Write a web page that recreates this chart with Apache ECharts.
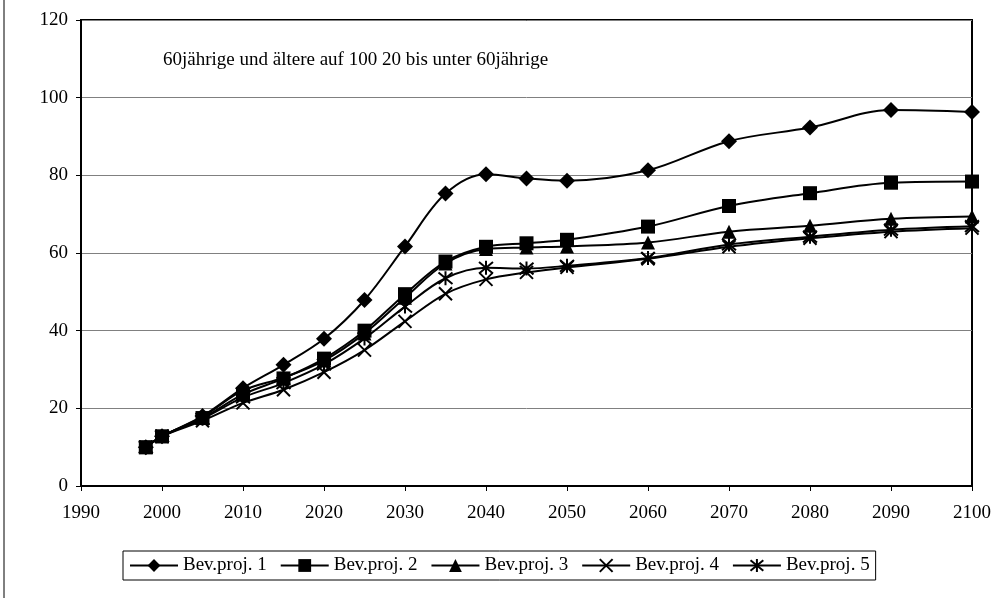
<!DOCTYPE html>
<html>
<head>
<meta charset="utf-8">
<script src="https://cdn.jsdelivr.net/npm/echarts@6/dist/echarts.min.js"></script>
<style>
  html, body { margin: 0; padding: 0; background: #fff; }
  #main { width: 994px; height: 598px; }
</style>
</head>
<body>
<div id="main"></div>
<script>
// Jahre (x-Werte)
const years = [1998, 2000, 2005, 2010, 2015, 2020, 2025, 2030, 2035, 2040, 2045, 2050, 2060, 2070, 2080, 2090, 2100];

// Werte der fünf Bevölkerungsprojektionen
const proj1 = [10, 12.8, 18.0, 25.2, 31.2, 37.9, 47.9, 61.7, 75.3, 80.3, 79.2, 78.6, 81.3, 88.8, 92.3, 96.8, 96.3];
const proj2 = [10, 12.8, 17.5, 23.6, 27.7, 32.8, 40.0, 49.4, 57.8, 61.6, 62.5, 63.4, 66.8, 72.1, 75.4, 78.1, 78.4];
const proj3 = [10, 12.8, 17.8, 24.6, 27.9, 32.3, 39.3, 48.5, 57.3, 61.0, 61.4, 61.7, 62.7, 65.5, 67.0, 68.8, 69.4];
const proj4 = [10, 12.8, 16.8, 21.4, 24.8, 29.3, 35.0, 42.4, 49.5, 53.2, 55.0, 56.3, 58.5, 61.6, 63.8, 65.5, 66.4];
const proj5 = [10, 12.8, 17.3, 22.8, 26.5, 31.3, 38.0, 46.2, 53.5, 56.2, 56.0, 56.7, 58.7, 62.2, 64.2, 66.0, 66.9];

const seriesNames = ['Bev.proj. 1', 'Bev.proj. 2', 'Bev.proj. 3', 'Bev.proj. 4', 'Bev.proj. 5'];
const annotation = '60jährige und ältere auf 100 20 bis unter 60jährige';

const chart = echarts.init(document.getElementById('main'));

const font = 'Liberation Serif, Times New Roman, serif';
const toPairs = vals => years.map((y, i) => [y, vals[i]]);

// Symbole: Raute, Quadrat, Dreieck, X, Stern
const symbols = [
  { symbol: 'diamond', size: 16 },
  { symbol: 'rect', size: 14 },
  { symbol: 'triangle', size: 14 },
  { symbol: 'path://M0,0 L10,10 M10,0 L0,10', size: 13 },
  { symbol: 'path://M0,0 L10,10 M10,0 L0,10 M5,-1 L5,11', size: 14 }
];

const allVals = [proj1, proj2, proj3, proj4, proj5];

const series = allVals.map((vals, i) => ({
  name: seriesNames[i],
  type: 'line',
  smooth: 0.35,
  data: toPairs(vals),
  symbol: symbols[i].symbol,
  symbolSize: symbols[i].size,
  showAllSymbol: true,
  lineStyle: { color: '#000', width: 2 },
  itemStyle: { color: '#000', borderColor: '#000', borderWidth: i >= 3 ? 2 : 0 },
  emphasis: { disabled: true }
}));

const option = {
  animation: false,
  backgroundColor: '#fff',
  textStyle: { fontFamily: font, color: '#000' },
  grid: {
    left: 81, right: 22, top: 20, bottom: 112,
    show: true, borderColor: '#000', borderWidth: 2
  },
  xAxis: {
    type: 'value',
    min: 1990, max: 2100, interval: 10,
    axisLine: { lineStyle: { color: '#000', width: 2 } },
    axisTick: { show: true, length: 5, lineStyle: { color: '#000' } },
    splitLine: { show: false },
    axisLabel: {
      fontFamily: font, fontSize: 19, color: '#000', margin: 18,
      formatter: v => String(v)
    }
  },
  yAxis: {
    type: 'value',
    min: 0, max: 120, interval: 20,
    axisLine: { show: true, lineStyle: { color: '#000', width: 2 } },
    axisTick: { show: true, length: 5, lineStyle: { color: '#000' } },
    splitLine: { show: true, lineStyle: { color: '#808080', width: 1 } },
    axisLabel: { fontFamily: font, fontSize: 19, color: '#000', margin: 13 }
  },
  legend: {
    data: seriesNames,
    left: 123, top: 551,
    width: 780,
    padding: [5, 6, 5, 6],
    itemWidth: 48, itemHeight: 16, itemGap: 13,
    borderColor: '#000', borderWidth: 1,
    textStyle: { fontFamily: font, fontSize: 19, color: '#000' },
    selectedMode: false
  },
  graphic: [
    {
      type: 'text', left: 163, top: 51,
      style: { text: annotation, font: '19px ' + font, fill: '#000' }
    },
    {
      type: 'line',
      shape: { x1: 4, y1: 0, x2: 4, y2: 598 },
      style: { stroke: '#000', lineWidth: 1 }
    }
  ],
  series: series
};

chart.setOption(option);
window.addEventListener('resize', () => chart.resize());
</script>
</body>
</html>
